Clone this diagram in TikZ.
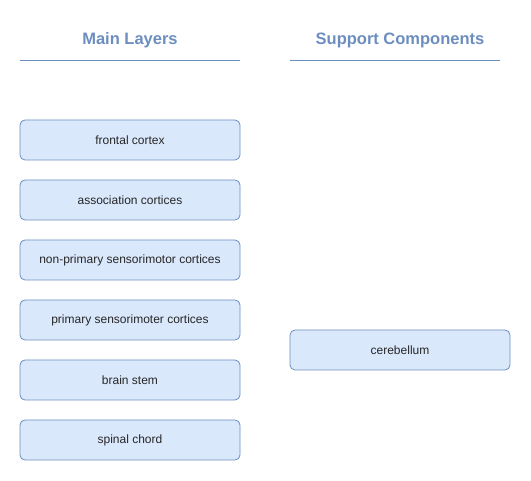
\documentclass[tikz,border=0pt]{standalone}
\usepackage{fontspec}
\setmainfont{Liberation Sans}
\usetikzlibrary{positioning}
\definecolor[named]{layerFill}{HTML}{DAE8FC}
\definecolor[named]{layerLine}{HTML}{6C8EBF}
\tikzset{layer/.style={
  draw=layerLine, fill=layerFill, rounded corners=5pt, line width=0.8pt,
  minimum width=220pt, minimum height=40pt, inner sep=0pt, outer sep=0pt,
  font=\fontsize{12}{14}\selectfont, text=black!85}}
\tikzset{heading/.style={
  font=\fontsize{16.5}{19}\selectfont\bfseries, text=layerLine}}
\tikzset{rule/.style={draw=layerLine, line width=0.8pt}}
\begin{document}
\begin{tikzpicture}[x=1pt,y=-1pt]
      \useasboundingbox (0,0) rectangle (531,481);
      % headings
      \node[heading] (mainhead) at (130,40) {Main Layers};
      \node[heading] (supphead) at (400,40) {Support Components};
      \coordinate (ml) at (20,60);
      \coordinate (mr) at (240,60);
      \coordinate (sl) at (290,60);
      \coordinate (sr) at (500,60);
      \draw[rule] (ml) -- (mr);
      \draw[rule] (sl) -- (sr);
      % main layers
      \node[layer] (frontal) at (130,140) {frontal cortex};
      \node[layer,below=20pt of frontal] (assoc) {association cortices};
      \node[layer,below=20pt of assoc] (nonprim) {non-primary sensorimotor cortices};
      \node[layer,below=20pt of nonprim] (prim) {primary sensorimoter cortices};
      \node[layer,below=20pt of prim] (stem) {brain stem};
      \node[layer,below=20pt of stem] (spinal) {spinal chord};
      % support components
      \node[layer] (cereb) at (400,350) {cerebellum};
\end{tikzpicture}
\end{document}
